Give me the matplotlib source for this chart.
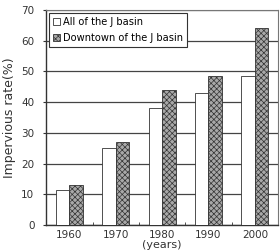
import numpy as np
import matplotlib.pyplot as plt
from matplotlib.ticker import FixedLocator

years = ["1960", "1970", "1980", "1990", "2000"]
all_basin = [11.3, 25.2, 38.0, 43.1, 48.4]
downtown = [13.0, 27.0, 44.0, 48.5, 64.3]

fig = plt.figure(figsize=(2.8, 2.52), dpi=100)
ax = fig.add_axes([0.165, 0.107, 0.828, 0.853])

x = np.arange(len(years))
w = 0.29
plt.rcParams['hatch.color'] = '#555555'
plt.rcParams['hatch.linewidth'] = 0.5
ax.bar(x - w / 2, all_basin, w, color='white', edgecolor='#333333', linewidth=0.6,
       label='All of the J basin', zorder=3)
ax.bar(x + w / 2, downtown, w, color='#a8a8a8', edgecolor='#333333', linewidth=0.6,
       hatch='xxxxxx', label='Downtown of the J basin', zorder=3)

ax.set_xlim(-0.5, 4.5)
ax.set_ylim(0, 70)
ax.set_yticks(range(0, 71, 10))
ax.set_xticks(x)
ax.set_xticklabels(years)
ax.xaxis.set_minor_locator(FixedLocator([0.5, 1.5, 2.5, 3.5]))
ax.tick_params(axis='x', which='major', length=0, labelsize=7.5, colors='#333333', pad=3.5)
ax.tick_params(axis='x', which='minor', length=2.5, direction='in', color='#333333')
ax.tick_params(axis='y', length=2.5, labelsize=7.5, colors='#333333', pad=6)
ax.grid(axis='y', color='#444444', linewidth=0.9, zorder=0)
ax.set_axisbelow(True)

for s in ['top', 'right']:
    ax.spines[s].set_color('#777777')
    ax.spines[s].set_linewidth(0.8)
for s in ['left', 'bottom']:
    ax.spines[s].set_color('#333333')
    ax.spines[s].set_linewidth(1.0)

ax.set_ylabel('Impervious rate(%)', fontsize=9, color='#333333', labelpad=4)
ax.set_xlabel('(years)', fontsize=8, color='#333333', labelpad=0)

leg = ax.legend(loc='upper left', fontsize=7.1, frameon=True, fancybox=False,
                edgecolor='#333333', handlelength=0.7, handleheight=0.7,
                handletextpad=0.3, borderpad=0.4, labelspacing=0.6,
                borderaxespad=0.3)
leg.get_frame().set_linewidth(0.8)
leg.get_frame().set_alpha(1)

fig.savefig('out.png', dpi=100)
